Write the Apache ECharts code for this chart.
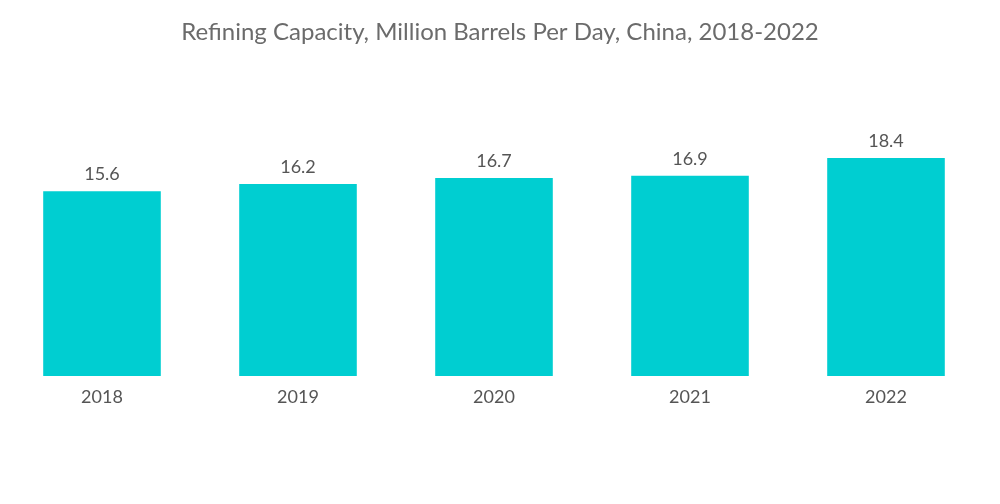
<!DOCTYPE html>
<html>
<head>
<meta charset="utf-8">
<script src="https://cdn.jsdelivr.net/npm/echarts@6/dist/echarts.min.js"></script>
<style>
  html, body { margin: 0; padding: 0; background: #fff; }
  #chart { width: 1000px; height: 504px; }
</style>
</head>
<body>
<div id="chart"></div>
<script>
var years = ['2018', '2019', '2020', '2021', '2022'];
var capacity = [15.6, 16.2, 16.7, 16.9, 18.4];

var myChart = echarts.init(document.getElementById('chart'));
var option = {
    title: {
        text: 'Refining Capacity, Million Barrels Per Day, China, 2018-2022',
        left: 495,
        textAlign: 'center',
        top: 15,
        textStyle: {
            fontFamily: 'Lato',
            fontWeight: 'normal',
            fontSize: 24,
            color: '#6b6b6b'
        }
    },
    grid: {
        left: 4,
        right: 16,
        top: 139,
        bottom: 128
    },
    xAxis: {
        type: 'category',
        data: years,
        axisLine: { show: false },
        axisTick: { show: false },
        axisLabel: {
            margin: 12,
            fontFamily: 'Lato',
            fontSize: 18,
            color: '#555'
        }
    },
    yAxis: {
        type: 'value',
        min: 0,
        max: 20,
        show: false,
        splitLine: { show: false }
    },
    series: [
        {
            type: 'bar',
            data: capacity,
            barWidth: '60%',
            itemStyle: { color: '#00ced1' },
            label: {
                show: true,
                position: 'top',
                distance: 8,
                fontFamily: 'Lato',
                fontSize: 18,
                color: '#555'
            }
        }
    ]
};
myChart.setOption(option);
</script>
</body>
</html>
